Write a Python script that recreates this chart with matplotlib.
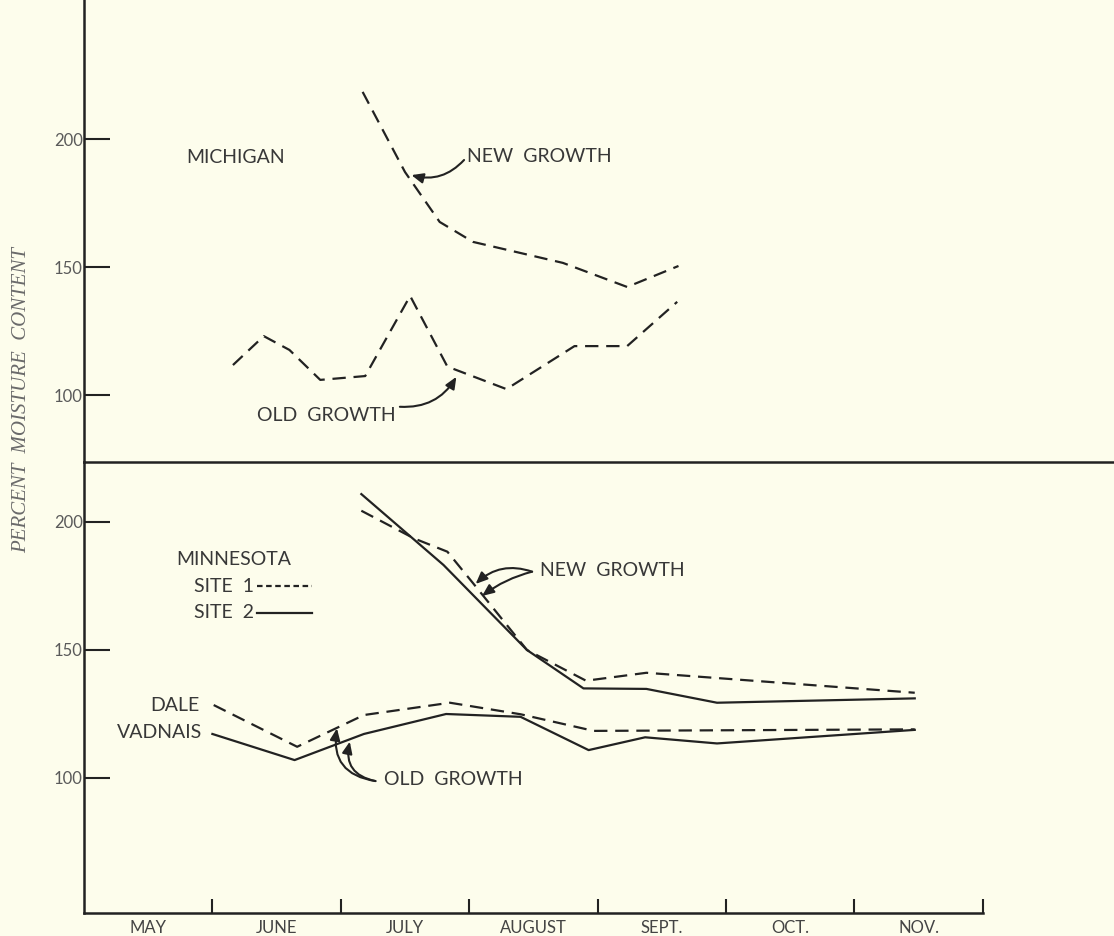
import matplotlib.pyplot as plt

# month labels
months = ['MAY', 'JUNE', 'JULY', 'AUGUST', 'SEPT.', 'OCT.', 'NOV.']

# Michigan (x in months since May 1)
mi_new_x = [2.17, 2.50, 2.77, 3.03, 3.73, 4.23, 4.63]
mi_new_y = [218.4, 187.1, 167.6, 159.8, 151.6, 142.2, 150.4]
mi_old_x = [1.16, 1.40, 1.60, 1.84, 2.19, 2.54, 2.83, 3.29, 3.82, 4.23, 4.62]
mi_old_y = [111.7, 123.0, 117.6, 105.9, 107.4, 138.7, 111.1, 102.3, 119.1, 119.1, 136.4]

# Minnesota new growth
site1_x = [2.16, 2.57, 2.83, 3.03, 3.45, 3.91, 4.38, 6.47]
site1_y = [204.4, 193.6, 188.4, 176.1, 150.0, 138.0, 141.1, 133.3]
site2_x = [2.16, 2.80, 3.45, 3.89, 4.38, 4.93, 6.47]
site2_y = [210.9, 183.2, 150.0, 135.0, 134.8, 129.4, 131.1]

# Minnesota old growth
dale_x = [1.01, 1.66, 2.18, 2.85, 3.40, 3.97, 6.47]
dale_y = [128.5, 112.2, 124.6, 129.4, 124.9, 118.4, 119.0]
vad_x = [1.00, 1.64, 2.18, 2.82, 3.40, 3.93, 4.37, 4.93, 6.47]
vad_y = [117.2, 107.0, 117.2, 125.0, 123.9, 110.9, 115.9, 113.5, 118.8]

bg = '#fdfdec'
ink = '#222222'
txt = '#383838'
W, H = 1114, 936

fig = plt.figure(figsize=(W / 100, H / 100), dpi=100, facecolor=bg)
ax1 = fig.add_axes([84 / W, 1 - 462 / H, 1030 / W, 462 / H], facecolor='none')
ax2 = fig.add_axes([84 / W, 1 - 913 / H, 1030 / W, 451 / H], facecolor='none')

xmax = 1030 / 128.4
ax1.set_xlim(0, xmax)
ax2.set_xlim(0, xmax)
ax1.set_ylim(200 - 323 / 2.56, 200 + 139 / 2.56)
ax2.set_ylim(200 - 391 / 2.56, 200 + 60 / 2.56)

fnt = 'Lato'
for ax in (ax1, ax2):
    for s in ('top', 'right'):
        ax.spines[s].set_visible(False)
    ax.spines['left'].set_linewidth(1.8)
    ax.spines['left'].set_color(ink)
    ax.spines['bottom'].set_linewidth(1.8)
    ax.spines['bottom'].set_color(ink)
    ax.set_yticks([100, 150, 200])
    ax.tick_params(axis='y', direction='in', length=19, width=1.5, color=ink,
                   pad=1, labelsize=12, labelcolor='#5a5a5a')
    for lab in ax.get_yticklabels():
        lab.set_family(fnt)

ax1.set_xticks([])
ax2.spines['bottom'].set_bounds(0, 7)
ax2.set_xticks(range(1, 8))
ax2.tick_params(axis='x', which='major', direction='in', length=10, width=1.5,
                color=ink, labelbottom=False)
ax2.set_xticks([i + 0.5 for i in range(7)], minor=True)
ax2.set_xticklabels(months, minor=True, family=fnt, fontsize=12, color='#444444')
ax2.tick_params(axis='x', which='minor', length=0, pad=5)

dash = dict(color=ink, lw=1.6, dashes=(6, 3.5))
solid = dict(color=ink, lw=1.6)

ax1.plot(mi_new_x, mi_new_y, **dash)
ax1.plot(mi_old_x, mi_old_y, **dash)
ax2.plot(site1_x, site1_y, **dash)
ax2.plot(site2_x, site2_y, **solid)
ax2.plot(dale_x, dale_y, **dash)
ax2.plot(vad_x, vad_y, **solid)

tk = dict(family=fnt, fontsize=14, color=txt)
arr = dict(arrowstyle='-|>,head_length=0.7,head_width=0.3', color=ink, lw=1.5,
           shrinkA=0, shrinkB=0)

ax1.text(0.80, 192.7, 'MICHIGAN', ha='left', va='center', **tk)
ax1.text(2.98, 193.1, 'NEW  GROWTH', ha='left', va='center', **tk)
ax1.annotate('', xy=(2.55, 185.9), xytext=(2.96, 191.8),
             arrowprops=dict(connectionstyle='arc3,rad=-0.3', **arr))
ax1.text(1.35, 91.8, 'OLD  GROWTH', ha='left', va='center', **tk)
ax1.annotate('', xy=(2.90, 107.1), xytext=(2.46, 95.4),
             arrowprops=dict(connectionstyle='arc3,rad=0.3', **arr))

ax2.text(0.72, 185.2, 'MINNESOTA', ha='left', va='center', **tk)
ax2.text(0.86, 175.0, 'SITE  1', ha='left', va='center', **tk)
ax2.text(0.86, 164.5, 'SITE  2', ha='left', va='center', **tk)
ax2.plot([1.345, 1.773], [175.0, 175.0], color=ink, lw=1.6, dashes=(2.5, 1.6))
ax2.plot([1.345, 1.773], [164.5, 164.5], **solid)

ax2.text(3.55, 181.0, 'NEW  GROWTH', ha='left', va='center', **tk)
ax2.annotate('', xy=(3.05, 175.8), xytext=(3.49, 180.6),
             arrowprops=dict(connectionstyle='arc3,rad=0.3', **arr))
ax2.annotate('', xy=(3.10, 171.1), xytext=(3.49, 180.6),
             arrowprops=dict(connectionstyle='arc3,rad=0.1', **arr))

ax2.text(0.90, 128.5, 'DALE', ha='right', va='center', **tk)
ax2.text(0.92, 117.7, 'VADNAIS', ha='right', va='center', **tk)
ax2.text(2.34, 99.6, 'OLD  GROWTH', ha='left', va='center', **tk)
ax2.annotate('', xy=(1.97, 119.4), xytext=(2.27, 98.8),
             arrowprops=dict(connectionstyle='arc3,rad=-0.5', **arr))
ax2.annotate('', xy=(2.07, 114.2), xytext=(2.27, 98.8),
             arrowprops=dict(connectionstyle='arc3,rad=-0.5', **arr))

fig.text(22 / W, 1 - 400 / H, 'PERCENT  MOISTURE  CONTENT', rotation=90,
         ha='center', va='center', family='Liberation Serif', style='italic',
         fontsize=15, color='#6a6a6a')

fig.savefig('out.png', dpi=100, facecolor=bg)
